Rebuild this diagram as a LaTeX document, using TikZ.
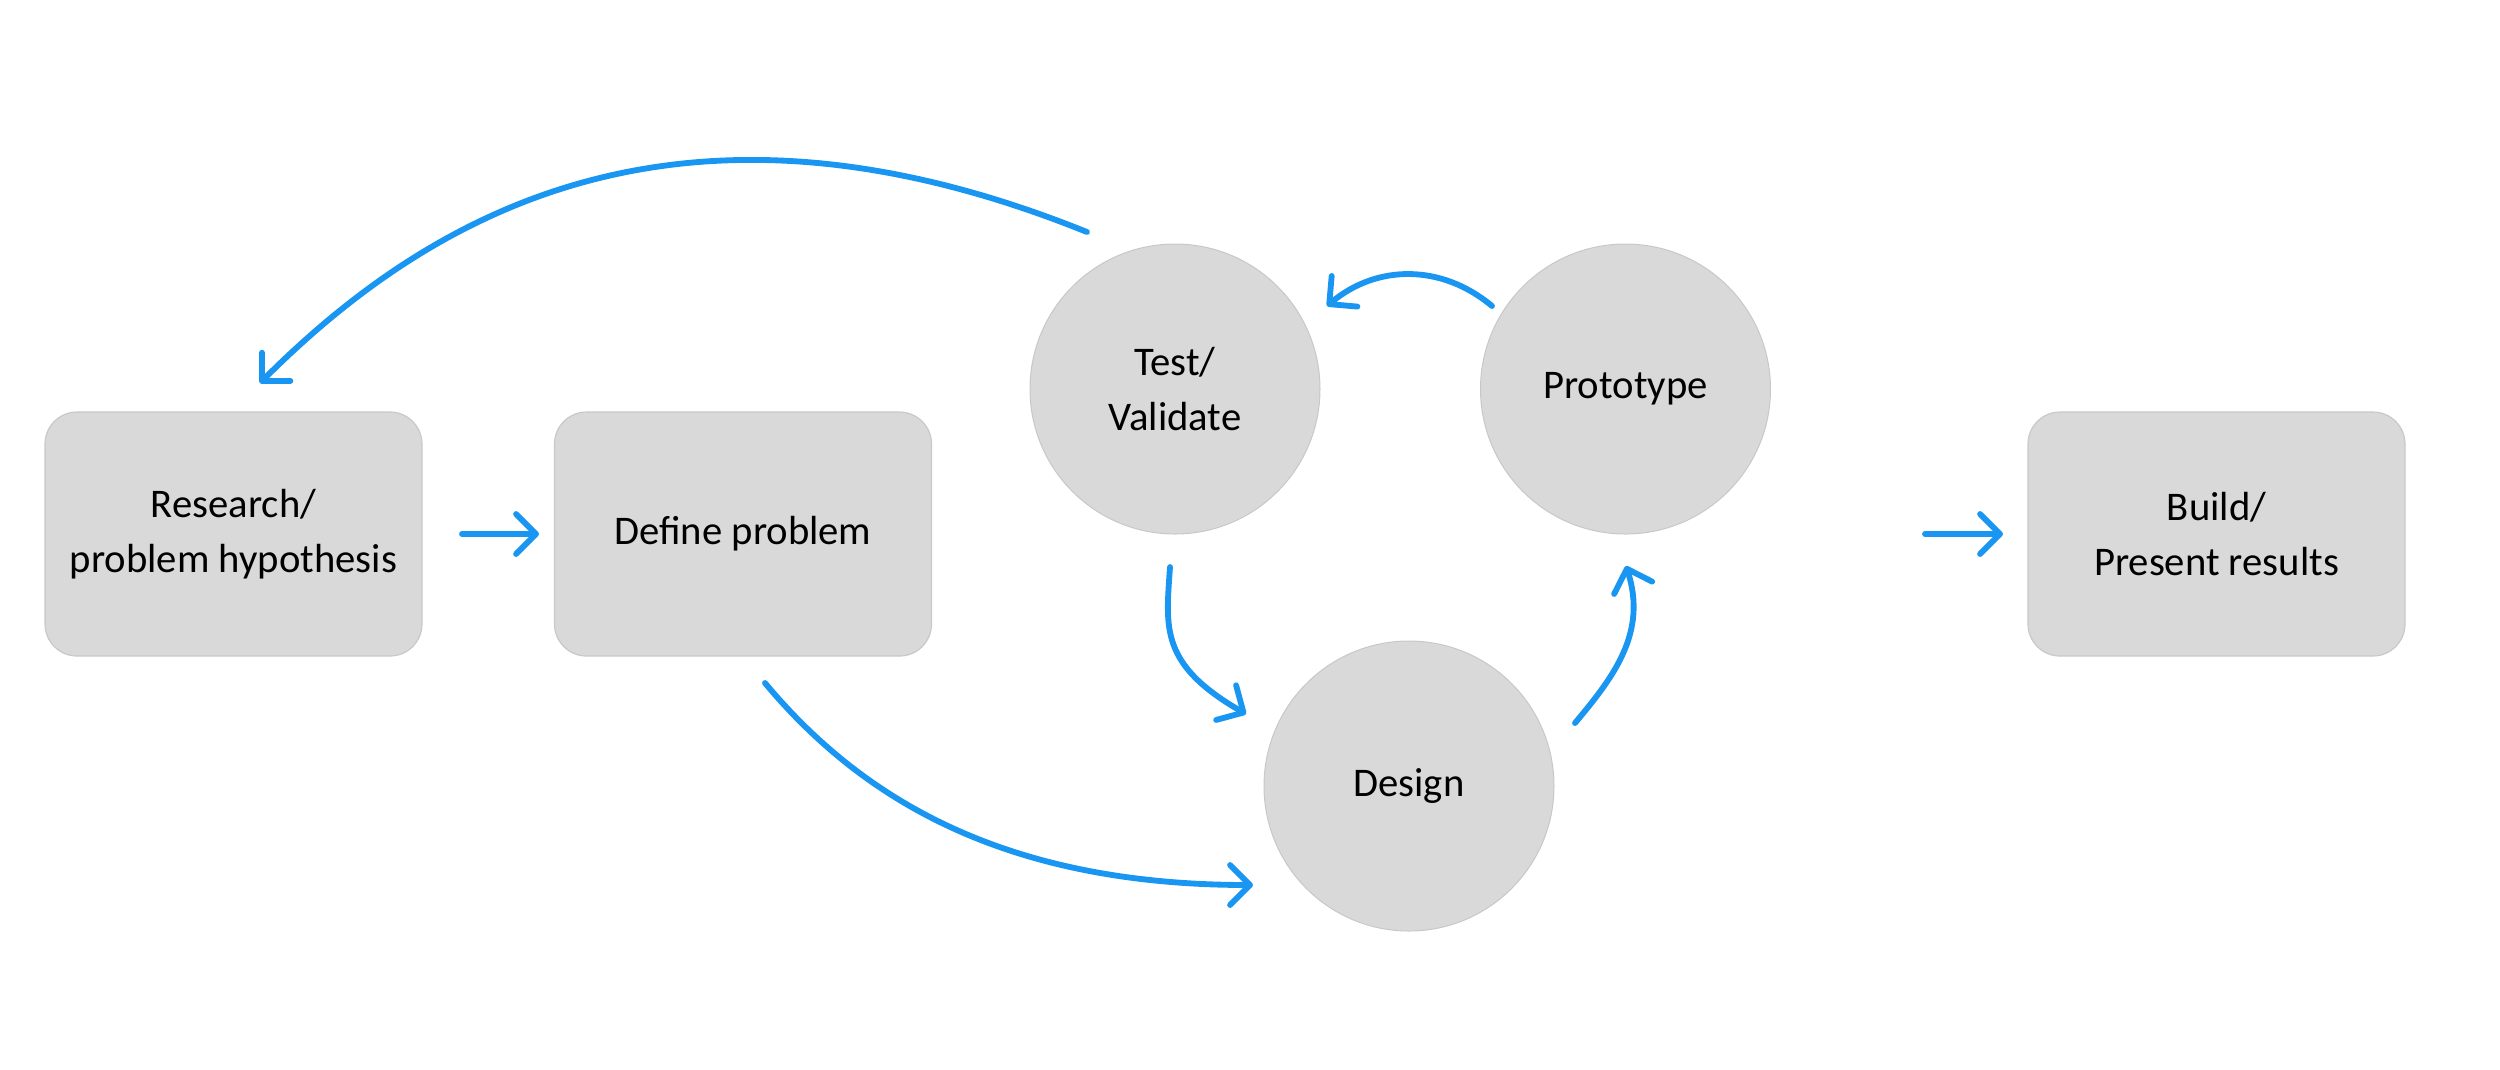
\documentclass[tikz,border=0pt]{standalone}
\usepackage{fontspec}
\setmainfont{Carlito}
\usetikzlibrary{arrows.meta}
\definecolor{arrowblue}{RGB}{24,150,242}
\definecolor{boxfill}{RGB}{217,217,217}
\definecolor{boxline}{RGB}{200,200,200}
\begin{document}
\begin{tikzpicture}[x=0.3pt,y=-0.3pt,
  lbl/.style={font=\fontsize{12.2pt}{16.6pt}\selectfont, align=center, text=black},
  boxnode/.style={lbl, draw=boxline, line width=0.35pt, fill=boxfill, rounded corners=9.6pt,
    minimum width=113.1pt, minimum height=73.2pt, inner sep=0pt},
  circnode/.style={lbl, circle, draw=boxline, line width=0.3pt, fill=boxfill,
    minimum size=87pt, inner sep=0pt},
  flow/.style={draw=arrowblue, line width=1.75pt, line cap=round,
    -{Straight Barb[length=6pt,width=12pt,round]}}
]
\useasboundingbox (0,0) rectangle (2500,1069);

% nodes
\node[boxnode] (research) at (233.5,534) {Research/\\problem hypothesis};
\node[boxnode] (define) at (743,534) {Define problem};
\node[boxnode] (build) at (2216.5,534) {Build/\\Present results};
\node[circnode] (test) at (1175,389) {Test/\\Validate};
\node[circnode] (proto) at (1625.5,389) {Prototype};
\node[circnode] (design) at (1409,786) {Design};

% connector end points
\coordinate (rdS) at (462,534);
\coordinate (rdE) at (539,534);
\coordinate (bS) at (1925,534);
\coordinate (bE) at (2003,534);
\coordinate (ddS) at (765,683);
\coordinate (ddE) at (1253,885);
\coordinate (trS) at (1087,232);
\coordinate (trE) at (260,383);
\coordinate (tdS) at (1170,567);
\coordinate (tdE) at (1246,714);
\coordinate (dpS) at (1575,723);
\coordinate (dpE) at (1626,566);
\coordinate (ptS) at (1492,306);
\coordinate (ptE) at (1327,306);

% connectors
\draw[flow] (rdS) -- (rdE);
\draw[flow] (bS) -- (bE);
\draw[flow] (ddS) .. controls +(96,115) and +(-250,0) .. (ddE);
\draw[flow] (trS) .. controls +(-399,-161) and +(177,-177) .. (trE);
\draw[flow] (tdS) .. controls +(-4,60) and +(-87,-50) .. (tdE);
\draw[flow] (dpS) .. controls +(38.6,-46) and +(21.7,66.5) .. (dpE);
\draw[flow] (ptS) .. controls +(-50,-42) and +(50,-42) .. (ptE);
\end{tikzpicture}
\end{document}
